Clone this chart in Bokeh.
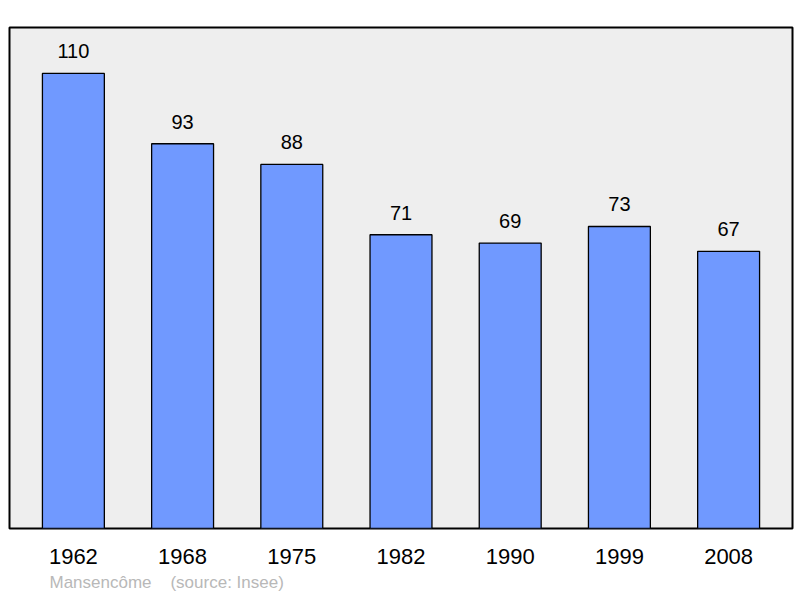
from bokeh.plotting import figure
from bokeh.models import Range1d, FixedTicker, ColumnDataSource, Title
from bokeh.core.properties import value
from bokeh.embed import file_html
from bokeh.resources import INLINE

years = ["1962", "1968", "1975", "1982", "1990", "1999", "2008"]
population = [110, 93, 88, 71, 69, 73, 67]
commune = "Mansencôme"
source_note = "(source: Insee)"

xs = list(range(len(years)))
src = ColumnDataSource(dict(x=xs, top=population, lab=[str(v) for v in population]))

p = figure(frame_width=783, frame_height=501, output_backend="svg", toolbar_location=None,
           x_range=Range1d(-0.585, 6.585), y_range=Range1d(0, 121.1),
           min_border_left=9, min_border_right=6, min_border_top=27, min_border_bottom=2)

p.background_fill_color = "#eeeeee"
p.border_fill_color = "white"
p.outline_line_color = "black"
p.outline_line_width = 2
p.grid.visible = False
p.yaxis.visible = False

p.vbar(x="x", top="top", width=0.567, bottom=0, source=src,
       fill_color="#7099ff", line_color="black", line_width=1.3)
p.text(x="x", y="top", text="lab", source=src, y_offset=-22,
       text_align="center", text_baseline="middle",
       text_font=value("Liberation Sans"), text_font_size="20px", text_color="black")

ax = p.xaxis[0]
ax.ticker = FixedTicker(ticks=xs)
ax.major_label_overrides = {i: y for i, y in enumerate(years)}
ax.axis_line_color = None
ax.major_tick_line_color = None
ax.minor_tick_line_color = None
ax.major_label_text_font = "Liberation Sans"
ax.major_label_text_font_size = "22px"
ax.major_label_text_color = "black"
ax.major_label_standoff = 14

p.add_layout(Title(text=commune + "\u00a0\u00a0\u00a0\u00a0" + source_note, align="left",
                   offset=40, text_font="Liberation Sans", text_font_size="17px",
                   text_font_style="normal", text_color="#b8b8b8", standoff=9), "below")

open("out.html", "w").write(file_html(p, INLINE))
